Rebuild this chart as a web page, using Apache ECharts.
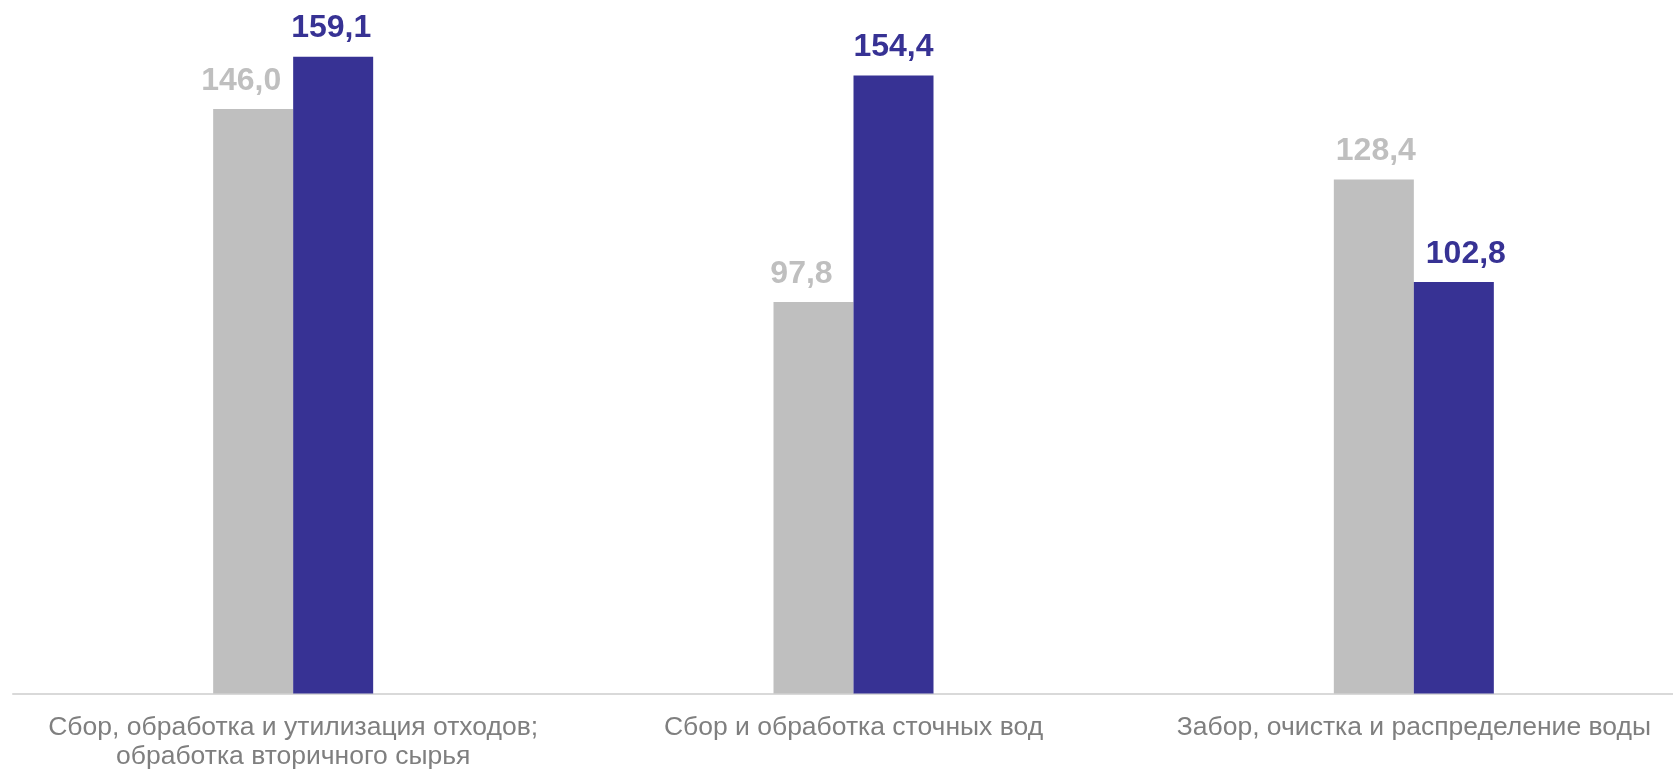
<!DOCTYPE html>
<html>
<head>
<meta charset="utf-8">
<script src="https://cdn.jsdelivr.net/npm/echarts@6/dist/echarts.min.js"></script>
<style>
html,body{margin:0;padding:0;background:#fff;}
#c{width:1673px;height:769px;}
</style>
</head>
<body>
<div id="c"></div>
<script>
var categories = ['Сбор, обработка и утилизация отходов;\nобработка вторичного сырья', 'Сбор и обработка сточных вод', 'Забор, очистка и распределение воды'];
var seriesPrev = [146.0, 97.8, 128.4];
var seriesCurr = [159.1, 154.4, 102.8];

// label horizontal nudges (styling, not data)
var prevLabelDx = [-12, -12, 2];
var currLabelDx = [-2, 0, 12];

var chart = echarts.init(document.getElementById('c'));
function fmt(p){ return p.value.toFixed(1).replace('.', ','); }
function items(vals, dx){
  return vals.map(function(v, i){ return { value: v, label: { offset: [dx[i], 0] } }; });
}
var labelFont = { fontSize: 32, fontWeight: 'bold', fontFamily: 'Liberation Sans, Arial' };
chart.setOption({
  animation: false,
  grid: { left: 13, top: 13, width: 1681, bottom: 75.5, containLabel: false, outerBoundsMode: 'none' },
  xAxis: {
    type: 'category',
    data: categories,
    axisLine: { lineStyle: { color: '#d9d9d9', width: 2 } },
    axisTick: { show: false },
    axisLabel: { interval: 0, hideOverlap: false, color: '#7f7f7f', fontSize: 26.5, fontFamily: 'Liberation Sans, Arial', margin: 20, lineHeight: 29 }
  },
  yAxis: { type: 'value', min: 0, max: 170, show: false, splitLine: { show: false } },
  series: [
    { type: 'bar', data: items(seriesPrev, prevLabelDx), barWidth: 80, barGap: '0%', itemStyle: { color: '#bfbfbf' },
      label: Object.assign({ show: true, position: 'top', distance: 12, formatter: fmt, color: '#bfbfbf' }, labelFont) },
    { type: 'bar', data: items(seriesCurr, currLabelDx), barWidth: 80, itemStyle: { color: '#373294' },
      label: Object.assign({ show: true, position: 'top', distance: 12, formatter: fmt, color: '#373294' }, labelFont) }
  ]
});
</script>
</body>
</html>
